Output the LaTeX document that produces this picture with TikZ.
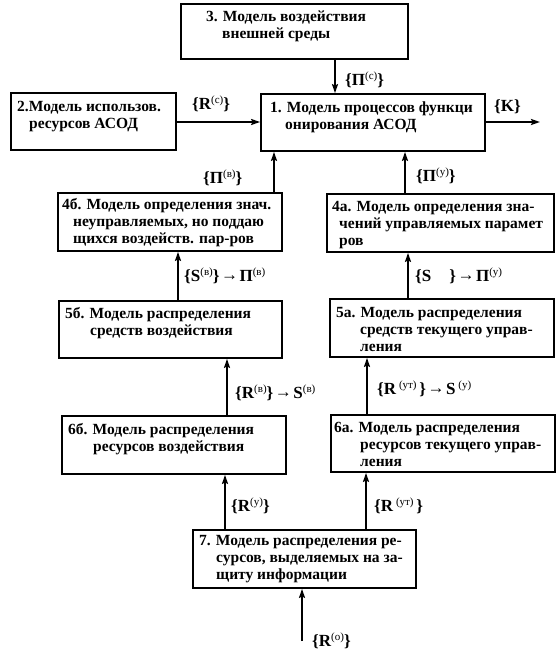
\documentclass[tikz,border=0pt]{standalone}
\usepackage{fontspec}
\setmainfont{Liberation Serif}
\usetikzlibrary{arrows.meta}
\newcommand\sps[1]{\raisebox{6.5pt}{\fontsize{11}{11}\selectfont\mdseries(#1)}}
\newcommand\larr{\kern1.5pt\raisebox{1.2pt}{→}\kern1.5pt}
\newcommand\tlines[1]{\vtop{#1}}
\begin{document}
\begin{tikzpicture}[x=1pt,y=-1pt,
  mbox/.style={draw, line width=1.8pt, inner sep=0pt},
  btext/.style={anchor=base west, inner sep=0pt, font=\bfseries\fontsize{15.5}{17.3}\selectfont},
  lab/.style={anchor=west, inner sep=0pt, font=\bfseries\fontsize{17}{17}\selectfont},
  conn/.style={line width=1.8pt, -{Stealth[length=9pt,width=6pt,inset=1.5pt]}}]
\useasboundingbox (0,0) rectangle (557,653);
% boxes
\node[mbox, minimum width=227pt, minimum height=55pt] (b3) at (294.5,31.5) {};
\node[mbox, minimum width=224pt, minimum height=57pt] (b1) at (373,122.5) {};
\node[mbox, minimum width=165pt, minimum height=57pt] (b2) at (93.5,121.5) {};
\node[mbox, minimum width=224pt, minimum height=58pt] (b4b) at (170,222) {};
\node[mbox, minimum width=227pt, minimum height=58pt] (b4a) at (440.5,223) {};
\node[mbox, minimum width=223pt, minimum height=57pt] (b5b) at (170.5,329.5) {};
\node[mbox, minimum width=224pt, minimum height=58pt] (b5a) at (442,328) {};
\node[mbox, minimum width=224pt, minimum height=58pt] (b6b) at (174,445) {};
\node[mbox, minimum width=224pt, minimum height=57pt] (b6a) at (443,443.5) {};
\node[mbox, minimum width=223pt, minimum height=58pt] (b7) at (304.5,559) {};
% texts
\node[btext] (t3) at (206,21) {\tlines{\hbox{3. Модель воздействия}\hbox{\hspace{16pt}внешней среды}}};
\node[btext] (t1) at (270,112) {\tlines{\hbox{1. Модель процессов функци}\hbox{\hspace{15pt}онирования АСОД}}};
\node[btext] (t2) at (17,111) {\tlines{\hbox{2.Модель использов.}\hbox{\hspace{12pt}ресурсов АСОД}}};
\node[btext] (t4b) at (62,209) {\tlines{\hbox{4б. Модель определения знач.}\hbox{\hspace{11pt}неуправляемых, но поддаю}\hbox{\hspace{11pt}щихся воздейств. пар-ров}}};
\node[btext] (t4a) at (332,211) {\tlines{\hbox{4а. Модель определения зна-}\hbox{\hspace{7pt}чений управляемых парамет}\hbox{\hspace{7pt}ров}}};
\node[btext] (t5b) at (65,318) {\tlines{\hbox{5б. Модель распределения}\hbox{\hspace{25pt}средств воздействия}}};
\node[btext] (t5a) at (336,317) {\tlines{\hbox{5а. Модель распределения}\hbox{\hspace{24pt}средств текущего управ-}\hbox{\hspace{24pt}ления}}};
\node[btext] (t6b) at (68,434) {\tlines{\hbox{6б. Модель распределения}\hbox{\hspace{25pt}ресурсов воздействия}}};
\node[btext] (t6a) at (334,432) {\tlines{\hbox{6а. Модель распределения}\hbox{\hspace{26pt}ресурсов текущего управ-}\hbox{\hspace{26pt}ления}}};
\node[btext] (t7) at (199,545) {\tlines{\hbox{7. Модель распределения ре-}\hbox{\hspace{17pt}сурсов, выделяемых на за-}\hbox{\hspace{17pt}щиту информации}}};
% connector x positions
\coordinate (x31) at (335,0);
\coordinate (y21) at (0,122);
\coordinate (kend) at (540,122);
\coordinate (x4b) at (274,0);
\coordinate (x4a) at (405,0);
\coordinate (x5b) at (178,0);
\coordinate (x5a) at (408,0);
\coordinate (x6b) at (227,0);
\coordinate (x6a) at (367,0);
\coordinate (x7b) at (225,0);
\coordinate (x7a) at (366,0);
\coordinate (r0) at (302,641);
% connectors
\draw[conn] (b3.south -| x31) -- (b1.north -| x31);
\draw[conn] (b2.east |- y21) -- (b1.west |- y21);
\draw[conn] (b1.east |- kend) -- (kend);
\draw[conn] (b4b.north -| x4b) -- (b1.south -| x4b);
\draw[conn] (b4a.north -| x4a) -- (b1.south -| x4a);
\draw[conn] (b5b.north -| x5b) -- (b4b.south -| x5b);
\draw[conn] (b5a.north -| x5a) -- (b4a.south -| x5a);
\draw[conn] (b6b.north -| x6b) -- (b5b.south -| x6b);
\draw[conn] (b6a.north -| x6a) -- (b5a.south -| x6a);
\draw[conn] (b7.north -| x7b) -- (b6b.south -| x7b);
\draw[conn] (b7.north -| x7a) -- (b6a.south -| x7a);
\draw[conn] (r0) -- (r0 |- b7.south);
% labels
\node[lab] (l31) at (345,80) {\{Π\sps{с}\}};
\node[lab] (l21) at (192,104) {\{R\sps{с}\}};
\node[lab] (lk) at (494,107) {\{K\}};
\node[lab] (l4b) at (203,178) {\{Π\sps{в}\}};
\node[lab] (l4a) at (416,176) {\{Π\sps{у}\}};
\node[lab] (l5b) at (184,276) {\{S\sps{в}\}\larr Π\sps{в}};
\node[lab] (l5a) at (415,276) {\{S\hspace{18pt}\}\larr Π\sps{у}};
\node[lab] (l6b) at (235,393) {\{R\sps{в}\}\larr S\sps{в}};
\node[lab] (l6a) at (377,389) {\{R\,\sps{ут}\,\}\larr S\,\sps{у}};
\node[lab] (l7b) at (231,506) {\{R\sps{у}\}};
\node[lab] (l7a) at (374,506) {\{R\,\sps{ут}\,\}};
\node[lab] (lr0) at (312,641) {\{R\sps{о}\}};
\end{tikzpicture}
\end{document}
